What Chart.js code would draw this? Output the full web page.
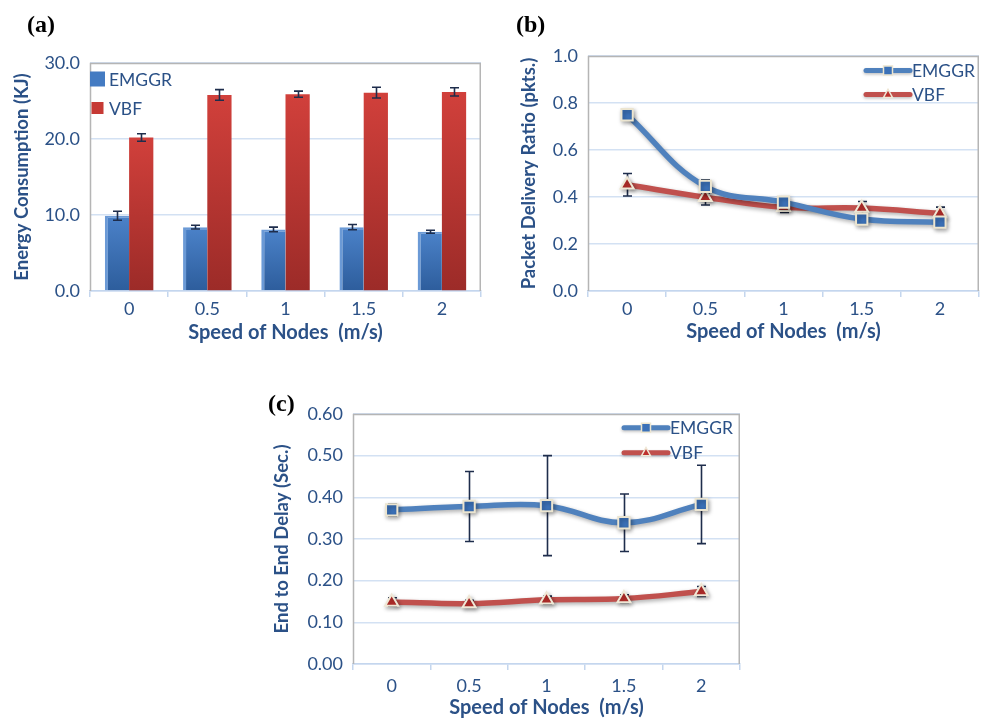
<!DOCTYPE html>
<html><head><meta charset="utf-8">
<script src="https://cdn.jsdelivr.net/npm/chart.js@4.4.0/dist/chart.umd.min.js"></script>
<style>
html,body{margin:0;padding:0;background:#fff;}
body{width:981px;height:718px;position:relative;overflow:hidden;}
canvas{position:absolute;display:block;}
.lbl{position:absolute;font-family:"Liberation Serif","DejaVu Serif",serif;font-weight:bold;font-size:24px;line-height:24px;color:#000;}
</style></head><body>
<canvas id="ca" width="490" height="350" style="left:0;top:0"></canvas>
<canvas id="cb" width="499" height="350" style="left:490px;top:0"></canvas>
<canvas id="cc" width="500" height="338" style="left:250px;top:380px"></canvas>
<div class="lbl" style="left:27px;top:12px">(a)</div>
<div class="lbl" style="left:516px;top:12px">(b)</div>
<div class="lbl" style="left:268px;top:391px">(c)</div>
<script>
// ---------- data ----------
const speeds = ['0', '0.5', '1', '1.5', '2'];
const seriesNames = ['EMGGR', 'VBF'];

const energyEMGGR    = [9.9, 8.4, 8.1, 8.4, 7.8];
const energyEMGGRErr = [0.6, 0.25, 0.3, 0.35, 0.2];
const energyVBF      = [20.2, 25.8, 25.9, 26.1, 26.2];
const energyVBFErr   = [0.5, 0.7, 0.4, 0.7, 0.55];
const energyTicks    = ['0.0', '10.0', '20.0', '30.0'];

const pdrEMGGR    = [0.75, 0.445, 0.378, 0.306, 0.293];
const pdrEMGGRErr = [0.01, 0.028, 0.015, 0.015, 0.01];
const pdrVBF      = [0.452, 0.399, 0.356, 0.353, 0.33];
const pdrVBFErr   = [0.048, 0.033, 0.022, 0.028, 0.027];
const pdrTicks    = ['0.0', '0.2', '0.4', '0.6', '0.8', '1.0'];

const delayEMGGR    = [0.37, 0.378, 0.38, 0.339, 0.383];
const delayEMGGRErr = [0.014, 0.084, 0.12, 0.069, 0.094];
const delayVBF      = [0.149, 0.145, 0.154, 0.157, 0.174];
const delayVBFErr   = [0.01, 0.008, 0.009, 0.009, 0.012];
const delayTicks    = ['0.00', '0.10', '0.20', '0.30', '0.40', '0.50', '0.60'];

// ---------- styles ----------
const TXT = '#2b5187';
const GRID = '#d3e1f3';
const AXIS = '#c4d6ee';
const FRAME = '#b5b5b5';
const ERR = '#1e2d4c';
const FONT = 'Lato, "Open Sans", "Liberation Sans", sans-serif';

// ---------- plugins ----------
const framePlugin = {
  id: 'frame',
  beforeDatasetsDraw(chart) {
    const a = chart.chartArea, ctx = chart.ctx;
    ctx.save();
    ctx.strokeStyle = FRAME; ctx.lineWidth = 1.5;
    ctx.beginPath();
    ctx.moveTo(a.left + 0.5, a.bottom); ctx.lineTo(a.left + 0.5, a.top + 0.5);
    ctx.lineTo(a.right - 0.75, a.top + 0.5); ctx.lineTo(a.right - 0.75, a.bottom);
    ctx.stroke();
    ctx.restore();
  }
};

function drawErrors(chart, o) {
  const ctx = chart.ctx, ys = chart.scales.y;
  chart.data.datasets.forEach((ds, di) => {
    if (!ds.errors) return;
    const meta = chart.getDatasetMeta(di);
    ctx.save();
    ctx.strokeStyle = ERR; ctx.lineWidth = 1.6;
    meta.data.forEach((el, i) => {
      const v = ds.data[i], e = ds.errors[i];
      const x = Math.round(el.x) + 0.5;
      const yt = ys.getPixelForValue(v + e), yb = ys.getPixelForValue(v - e);
      ctx.beginPath();
      ctx.moveTo(x, yt); ctx.lineTo(x, yb);
      ctx.moveTo(x - o.cap, yt); ctx.lineTo(x + o.cap, yt);
      ctx.moveTo(x - o.cap, yb); ctx.lineTo(x + o.cap, yb);
      ctx.stroke();
    });
    ctx.restore();
  });
}
const errorPlugin = {
  id: 'errorBars',
  beforeDatasetsDraw(chart, args, o) { if (o.layer === 'before') drawErrors(chart, o); },
  afterDatasetsDraw(chart, args, o) { if (o.layer !== 'before') drawErrors(chart, o); }
};

const shadowPlugin = {
  id: 'lineShadow',
  beforeDatasetDraw(chart, args, o) {
    if (!o.on) return;
    const ctx = chart.ctx;
    ctx.save();
    ctx.shadowColor = 'rgba(0,0,0,0.33)';
    ctx.shadowBlur = 4; ctx.shadowOffsetX = 1.5; ctx.shadowOffsetY = 2;
  },
  afterDatasetDraw(chart, args, o) { if (o.on) chart.ctx.restore(); }
};

function marker(ctx, style, x, y, r, fill, stroke, bw) {
  ctx.beginPath();
  if (style === 'rect') {
    ctx.rect(x - r, y - r, 2 * r, 2 * r);
  } else {
    ctx.moveTo(x, y - r * 1.15);
    ctx.lineTo(x + r, y + r * 0.65);
    ctx.lineTo(x - r, y + r * 0.65);
    ctx.closePath();
  }
  ctx.fillStyle = fill; ctx.fill();
  if (bw) { ctx.strokeStyle = stroke; ctx.lineWidth = bw; ctx.stroke(); }
}

const legendPlugin = {
  id: 'customLegend',
  afterDraw(chart, args, o) {
    const ctx = chart.ctx, a = chart.chartArea;
    const base = o.anchor === 'right' ? a.right : a.left;
    chart.data.datasets.forEach((ds, i) => {
      const y = a.top + o.rows[i];
      ctx.save();
      if (o.type === 'bar') {
        const s = o.box[i];
        ctx.fillStyle = ds.legendColor;
        ctx.fillRect(base + o.x0 + (15 - s) / 2, y - s / 2, s, s);
      } else {
        ctx.save();
        ctx.shadowColor = 'rgba(0,0,0,0.25)'; ctx.shadowBlur = 3; ctx.shadowOffsetY = 1.5;
        ctx.strokeStyle = ds.borderColor; ctx.lineWidth = 5; ctx.lineCap = 'round';
        ctx.beginPath(); ctx.moveTo(base + o.x0, y); ctx.lineTo(base + o.x1, y); ctx.stroke();
        ctx.restore();
        marker(ctx, ds.pointStyle, base + (o.x0 + o.x1) / 2, y, 4.5, ds.pointBackgroundColor, ds.pointBorderColor, 1.5);
      }
      ctx.fillStyle = TXT;
      ctx.font = '17.5px ' + FONT;
      ctx.textBaseline = 'middle';
      ctx.textAlign = 'left';
      ctx.fillText(ds.label, base + o.tx, y + 1);
      ctx.restore();
    });
  }
};

function barGradient(c0, c1) {
  return (c) => {
    const ch = c.chart, a = ch.chartArea;
    if (!a || c.raw === undefined) return c0;
    const top = ch.scales.y.getPixelForValue(c.raw);
    const g = ch.ctx.createLinearGradient(0, top, 0, a.bottom);
    g.addColorStop(0, c0); g.addColorStop(1, c1);
    return g;
  };
}

function fixW(w) { return (s) => { s.width = w; }; }
function fixH(h) { return (s) => { s.height = h; }; }

function xScale(opts) {
  return {
    type: 'category',
    offset: true,
    afterFit: fixH(opts.h),
    grid: { display: true, drawOnChartArea: false, drawTicks: true, tickLength: 6, color: AXIS, lineWidth: 1.5, offset: true },
    border: { display: true, color: AXIS, width: 1.5 },
    ticks: { color: TXT, font: { family: FONT, size: 18, lineHeight: 1.2 }, padding: opts.tp, maxRotation: 0 },
    title: { display: true, text: 'Speed of Nodes  (m/s)', color: TXT,
      font: { family: FONT, size: 20, weight: 'bold', lineHeight: opts.lh || 1.2 },
      padding: { top: 0, bottom: opts.titlePad } }
  };
}
function yScale(opts) {
  return {
    min: opts.min, max: opts.max,
    afterFit: fixW(opts.w),
    afterBuildTicks: (s) => { s.ticks = opts.labels.map((l, i) => ({ value: opts.min + i * opts.step })); },
    grid: { color: GRID, lineWidth: 1.5, drawTicks: false },
    border: { display: false },
    ticks: { color: TXT, font: { family: FONT, size: 18 }, padding: 10,
      callback: (v, i) => opts.labels[i] },
    title: { display: true, text: opts.title, color: TXT,
      font: { family: FONT, size: 18.5, weight: 'bold', lineHeight: 1.2 },
      padding: { top: opts.titlePad, bottom: 0 } }
  };
}

// ---------- chart (a) ----------
new Chart(document.getElementById('ca'), {
  type: 'bar',
  data: {
    labels: speeds,
    datasets: [
      { label: seriesNames[0], data: energyEMGGR, errors: energyEMGGRErr,
        backgroundColor: barGradient('#4b82c9', '#2d5d9c'), legendColor: '#447bc2',
        borderColor: '#6b9ad6', borderWidth: { top: 2, left: 3, right: 0, bottom: 0 }, borderSkipped: 'bottom',
        categoryPercentage: 0.62, barPercentage: 1.0 },
      { label: seriesNames[1], data: energyVBF, errors: energyVBFErr,
        backgroundColor: barGradient('#d1403b', '#9c2b28'), legendColor: '#c63a35',
        borderWidth: 0, categoryPercentage: 0.62, barPercentage: 1.0 }
    ]
  },
  options: {
    responsive: false, animation: false,
    layout: { padding: { top: 63, right: 9, left: 0, bottom: 0 } },
    scales: {
      x: xScale({ h: 59, tp: 1, titlePad: 5 }),
      y: yScale({ min: 0, max: 30, step: 10, labels: energyTicks, w: 90, titlePad: 11, title: 'Energy Consumption (KJ)' })
    },
    plugins: {
      legend: { display: false }, tooltip: { enabled: false },
      errorBars: { layer: 'after', cap: 4.5 },
      lineShadow: { on: false },
      customLegend: { type: 'bar', anchor: 'left', x0: 0, tx: 19, rows: [16, 45], box: [15, 12] }
    }
  },
  plugins: [framePlugin, errorPlugin, shadowPlugin, legendPlugin]
});

// ---------- line charts ----------
function lineDatasets(blue, red, blueErr, redErr) {
  return [
    { label: seriesNames[0], data: blue, errors: blueErr,
      borderColor: '#4f81bd', borderWidth: 5.5, tension: 0.4,
      pointStyle: 'rect', pointRadius: 8, pointBackgroundColor: '#3b71b8',
      pointBorderColor: '#ece5d0', pointBorderWidth: 2 },
    { label: seriesNames[1], data: red, errors: redErr,
      borderColor: '#c0504d', borderWidth: 5.5, tension: 0.4,
      pointStyle: 'triangle', pointRadius: 7.5, pointBackgroundColor: '#bd302d',
      pointBorderColor: '#efe8d6', pointBorderWidth: 2 }
  ];
}

new Chart(document.getElementById('cb'), {
  type: 'line',
  data: { labels: speeds, datasets: lineDatasets(pdrEMGGR, pdrVBF, pdrEMGGRErr, pdrVBFErr) },
  options: {
    responsive: false, animation: false,
    layout: { padding: { top: 56, right: 8, left: 0, bottom: 0 } },
    scales: {
      x: xScale({ h: 59, tp: 1, titlePad: 6 }),
      y: yScale({ min: 0, max: 1, step: 0.2, labels: pdrTicks, w: 98, titlePad: 28, title: 'Packet Delivery Ratio (pkts.)' })
    },
    plugins: {
      legend: { display: false }, tooltip: { enabled: false },
      errorBars: { layer: 'before', cap: 4.5 },
      lineShadow: { on: true },
      customLegend: { type: 'line', anchor: 'right', x0: -113, x1: -69, tx: -67, rows: [14.5, 38.5] }
    }
  },
  plugins: [framePlugin, errorPlugin, shadowPlugin, legendPlugin]
});

new Chart(document.getElementById('cc'), {
  type: 'line',
  data: { labels: speeds, datasets: lineDatasets(delayEMGGR, delayVBF, delayEMGGRErr, delayVBFErr) },
  options: {
    responsive: false, animation: false,
    layout: { padding: { top: 34, right: 8, left: 0, bottom: 0 } },
    scales: {
      x: xScale({ h: 54, tp: 5, titlePad: 0, lh: 1.0 }),
      y: yScale({ min: 0, max: 0.6, step: 0.1, labels: delayTicks, w: 103, titlePad: 20.5, title: 'End to End Delay (Sec.)' })
    },
    plugins: {
      legend: { display: false }, tooltip: { enabled: false },
      errorBars: { layer: 'before', cap: 4.5 },
      lineShadow: { on: true },
      customLegend: { type: 'line', anchor: 'right', x0: -116, x1: -72, tx: -70, rows: [13.7, 38.7] }
    }
  },
  plugins: [framePlugin, errorPlugin, shadowPlugin, legendPlugin]
});
</script>
</body></html>
